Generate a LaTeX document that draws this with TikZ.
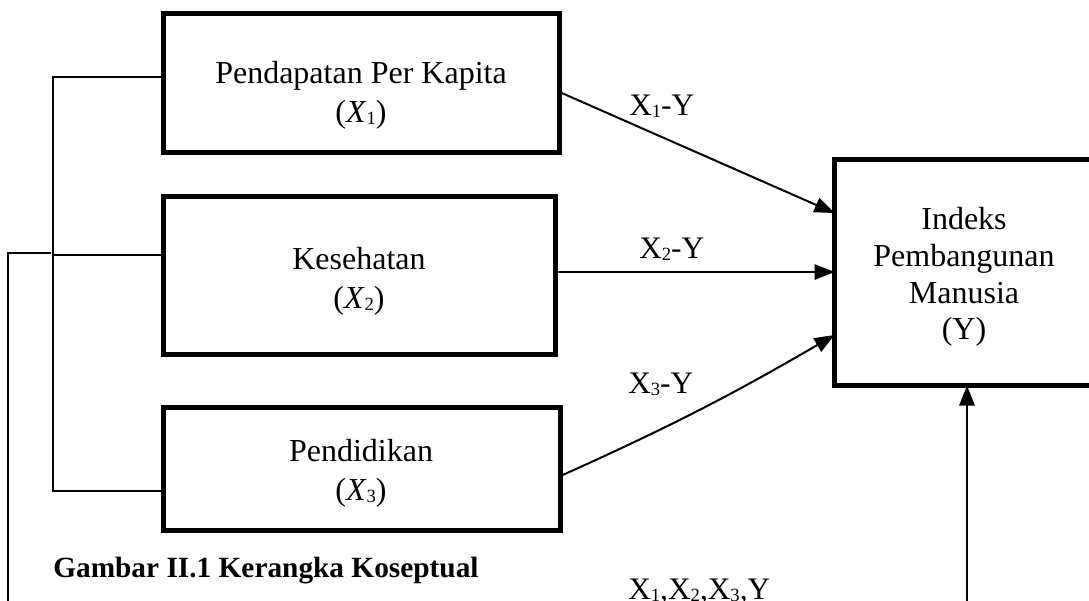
\documentclass[tikz,border=0pt]{standalone}
\usepackage{fontspec}
\setmainfont{Liberation Serif}
\usetikzlibrary{arrows.meta}
\newcommand{\sbs}[1]{\raisebox{-0.15ex}{\fontsize{14pt}{14pt}\selectfont #1}}
\tikzset{
  varbox/.style={draw, line width=3.75pt, inner sep=0pt, outer sep=0pt, rectangle},
  boxtext/.style={align=center, inner sep=0pt, font=\fontsize{24pt}{29pt}\selectfont},
  ytext/.style={align=center, inner sep=0pt, font=\fontsize{24pt}{27.5pt}\selectfont},
  lbl/.style={anchor=base west, inner sep=0pt, font=\fontsize{23.5pt}{28pt}\selectfont},
  conn/.style={line width=1.5pt},
  arr/.style={line width=1.5pt, -{Triangle[length=15pt,width=11.5pt]}},
}
\begin{document}
\begin{tikzpicture}[x=0.75pt,y=-0.75pt]
\useasboundingbox (0,0) rectangle (1089,600);
\clip (0,0) rectangle (1089,600);
% boxes
\node[varbox, minimum width=297pt, minimum height=104.25pt] (b1) at (361.5,83) {};
\node[varbox, minimum width=294pt, minimum height=118.5pt] (b2) at (359.5,275.5) {};
\node[varbox, minimum width=297.75pt, minimum height=92.25pt] (b3) at (362,469) {};
\node[varbox, minimum width=195pt, minimum height=169.5pt] (yb) at (964.5,272.5) {};
% box texts
\node[boxtext] (t1) at (361,95) {Pendapatan Per Kapita\\(\textit{X}\sbs{1})};
\node[boxtext] (t2) at (359,281) {Kesehatan\\(\textit{X}\sbs{2})};
\node[boxtext] (t3) at (361,473) {Pendidikan\\(\textit{X}\sbs{3})};
\node[ytext] (ty) at (964,277) {Indeks\\Pembangunan\\Manusia\\(Y)};
% bracket on the left
\coordinate (j1) at (53,77);
\coordinate (j2) at (53,255);
\coordinate (j3) at (53,491);
\draw[conn] (j1 -| b1.west) -- (j1) -- (j3) -- (j3 -| b3.west);
\draw[conn] (j2) -- (j2 -| b2.west);
% outer line
\coordinate (o1) at (8,605);
\coordinate (o2) at (51,253);
\draw[conn] (o1) |- (o2);
% arrows
\draw[arr] (b1.east |- 0,92) -- (yb.west |- 0,213);
\draw[arr] (b2.east |- 0,272) -- (yb.west |- 0,272);
\draw[arr] (b3.east |- 0,476) to[bend right=3] (yb.west |- 0,335);
\coordinate (bt) at (967,605);
\draw[arr] (bt) -- (bt |- yb.south);
% labels
\node[lbl] (l1) at (629,115) {X\sbs{1}-Y};
\node[lbl] (l2) at (639,258) {X\sbs{2}-Y};
\node[lbl] (l3) at (628,393) {X\sbs{3}-Y};
\node[lbl] (l4) at (628,599) {X\sbs{1},X\sbs{2},X\sbs{3},Y};
\node[anchor=base west, inner sep=0pt, font=\fontsize{22pt}{26pt}\selectfont\bfseries] (cap) at (53,577) {Gambar II.1 Kerangka Koseptual};
\end{tikzpicture}
\end{document}
